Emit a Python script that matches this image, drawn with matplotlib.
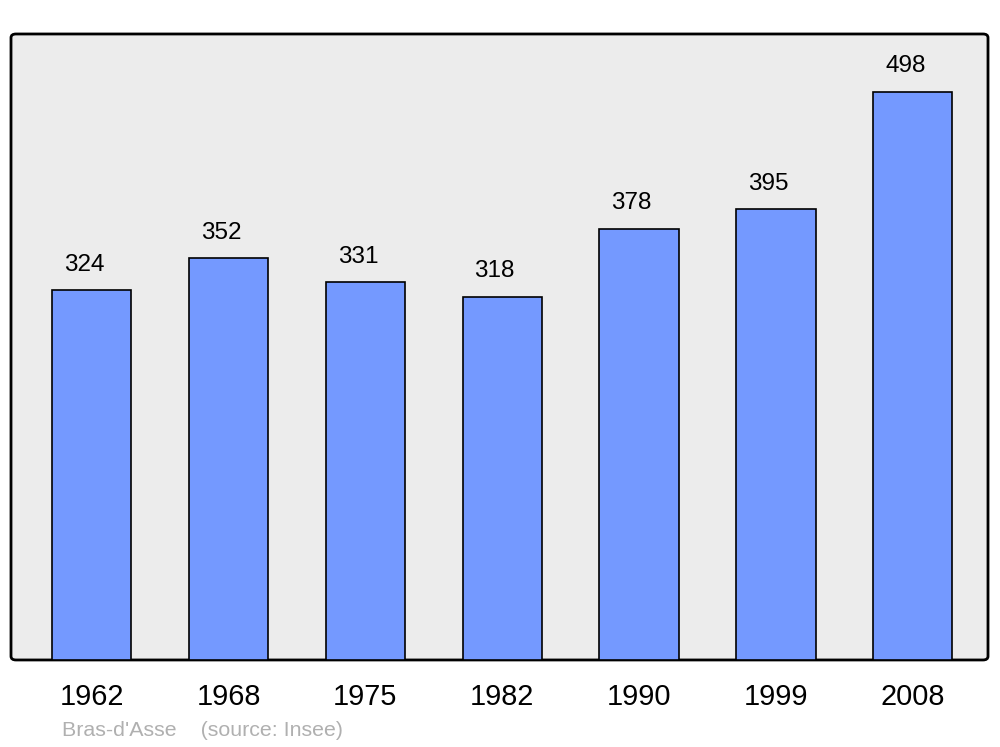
import numpy as np
import matplotlib.pyplot as plt
from matplotlib.patches import FancyBboxPatch

years = ['1962', '1968', '1975', '1982', '1990', '1999', '2008']
population = [324, 352, 331, 318, 378, 395, 498]

plt.rcParams['font.family'] = ['Liberation Sans', 'DejaVu Sans']

fig = plt.figure(figsize=(10, 7.47), dpi=100)
ax = fig.add_axes([0.011, 0.1165, 0.977, 0.838])
ax.set_facecolor('none')
for s in ax.spines.values():
    s.set_visible(False)

# cadre aux coins arrondis
frame = FancyBboxPatch((0.011, 0.1165), 0.977, 0.838,
                       boxstyle='round,pad=0,rounding_size=0.005',
                       transform=fig.transFigure, facecolor='#ececec',
                       edgecolor='black', linewidth=2, zorder=-1)
fig.patches.append(frame)

x = np.arange(len(years))
ax.bar(x, population, width=0.58, color='#7499ff', edgecolor='black',
       linewidth=1.2, zorder=2)

for xi, v in zip(x, population):
    ax.text(xi - 0.055, v + 22.5, str(v), ha='center', va='center', fontsize=17.5)

ax.set_xlim(-0.59, 6.55)
ax.set_ylim(0, 548.6)
ax.set_xticks(x)
ax.set_xticklabels(years, fontsize=20.8)
ax.tick_params(axis='x', length=0, pad=16.5)
ax.set_yticks([])

fig.text(0.062, 0.0215, "Bras-d'Asse    (source: Insee)", color='#b0b0b0',
         fontsize=15.4, ha='left', va='center')

plt.savefig('out.png', dpi=100)
